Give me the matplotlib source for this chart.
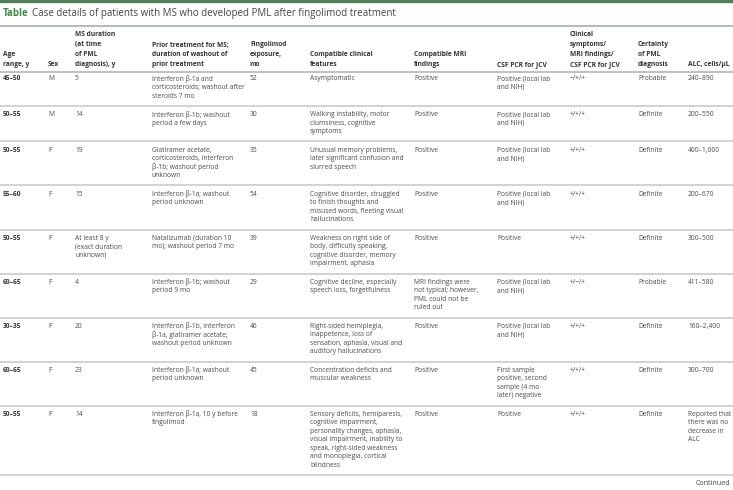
import matplotlib
matplotlib.use("Agg")
import matplotlib.pyplot as plt

plt.rcParams['font.family'] = ['Open Sans', 'DejaVu Sans']

# Table content
title_label = "Table"
title_text = "Case details of patients with MS who developed PML after fingolimod treatment"

headers = [
    "Age\nrange, y",
    "Sex",
    "MS duration\n(at time\nof PML\ndiagnosis), y",
    "Prior treatment for MS;\nduration of washout of\nprior treatment",
    "Fingolimod\nexposure,\nmo",
    "Compatible clinical\nfeatures",
    "Compatible MRI\nfindings",
    "CSF PCR for JCV",
    "Clinical\nsymptoms/\nMRI findings/\nCSF PCR for JCV",
    "Certainty\nof PML\ndiagnosis",
    "ALC, cells/µL",
]

age_range = ["45–50", "50–55", "50–55", "55–60", "50–55", "60–65", "30–35", "60–65", "50–55"]
sex = ["M", "M", "F", "F", "F", "F", "F", "F", "F"]
ms_duration = ["5", "14", "19", "15", "At least 8 y\n(exact duration\nunknown)", "4", "20", "23", "14"]
prior_treatment = [
    "Interferon β-1a and\ncorticosteroids; washout after\nsteroids 7 mo",
    "Interferon β-1b; washout\nperiod a few days",
    "Glatiramer acetate,\ncorticosteroids, interferon\nβ-1b; washout period\nunknown",
    "Interferon β-1a; washout\nperiod unknown",
    "Natalizumab (duration 10\nmo); washout period 7 mo",
    "Interferon β-1b; washout\nperiod 9 mo",
    "Interferon β-1b, interferon\nβ-1a, glatiramer acetate;\nwashout period unknown",
    "Interferon β-1a; washout\nperiod unknown",
    "Interferon β-1a, 10 y before\nfingolimod",
]
exposure_mo = ["52", "30", "35", "54", "39", "29", "46", "45", "18"]
clinical_features = [
    "Asymptomatic",
    "Walking instability, motor\nclumsiness, cognitive\nsymptoms",
    "Unusual memory problems,\nlater significant confusion and\nslurred speech",
    "Cognitive disorder, struggled\nto finish thoughts and\nmisused words, fleeting visual\nhallucinations",
    "Weakness on right side of\nbody, difficulty speaking,\ncognitive disorder, memory\nimpairment, aphasia",
    "Cognitive decline, especially\nspeech loss, forgetfulness",
    "Right-sided hemiplegia,\ninappetence, loss of\nsensation, aphasia, visual and\nauditory hallucinations",
    "Concentration deficits and\nmuscular weakness",
    "Sensory deficits, hemiparesis,\ncognitive impairment,\npersonality changes, aphasia,\nvisual impairment, inability to\nspeak, right-sided weakness\nand monoplegia, cortical\nblindness",
]
mri_findings = [
    "Positive", "Positive", "Positive", "Positive", "Positive",
    "MRI findings were\nnot typical; however,\nPML could not be\nruled out",
    "Positive", "Positive", "Positive",
]
csf_pcr = [
    "Positive (local lab\nand NIH)", "Positive (local lab\nand NIH)", "Positive (local lab\nand NIH)",
    "Positive (local lab\nand NIH)", "Positive", "Positive (local lab\nand NIH)",
    "Positive (local lab\nand NIH)",
    "First sample\npositive, second\nsample (4 mo\nlater) negative",
    "Positive",
]
combined = ["−/+/+", "+/+/+", "+/+/+", "+/+/+", "+/+/+", "+/−/+", "+/+/+", "+/+/+", "+/+/+"]
certainty = ["Probable", "Definite", "Definite", "Definite", "Definite", "Probable", "Definite", "Definite", "Definite"]
alc = ["240–890", "200–550", "400–1,000", "200–670", "300–500", "411–580", "160–2,400", "300–700",
       "Reported that\nthere was no\ndecrease in\nALC"]

columns = [age_range, sex, ms_duration, prior_treatment, exposure_mo, clinical_features,
           mri_findings, csf_pcr, combined, certainty, alc]

# Layout (pixels)
W, H = 733, 490
col_x = [3, 48, 75, 152, 250, 310, 414, 497, 570, 638, 688]
lh = 8.5        # line height
fs = 4.8        # body font size
text_col = "#4a4a4a"
head_col = "#333333"
rule_col = "#cfcfcf"

fig = plt.figure(figsize=(W / 100, H / 100), dpi=100)
ax = fig.add_axes([0, 0, 1, 1])
ax.set_xlim(0, W)
ax.set_ylim(H, 0)
ax.axis("off")

# top bar and title
ax.axhline(1.2, color="#4f7f5a", lw=2.4)
ax.text(3, 13.5, title_label, fontsize=7.0, fontweight="bold", color="#3f8a4a", va="center")
ax.text(32, 13.5, title_text, fontsize=7.0, color="#444444", va="center")
ax.axhline(26, color="#a9b8aa", lw=1.3)


def draw_cell(x, y0, txt, bold=False, color=text_col, step=lh):
    for i, line in enumerate(txt.split("\n")):
        ax.text(x, y0 + i * step, line, fontsize=fs, color=color, va="center",
                fontweight="bold" if bold else "normal")


# header, bottom aligned
head_last = 64.5
head_lh = 10
for x, h in zip(col_x, headers):
    n = len(h.split("\n"))
    draw_cell(x, head_last - (n - 1) * head_lh, h, bold=True, color=head_col, step=head_lh)
ax.axhline(72.5, color="#b5b5b5", lw=1.2)

# body rows
y = 79
for r in range(len(age_range)):
    cells = [c[r] for c in columns]
    nlines = max(len(c.split("\n")) for c in cells)
    for j, (x, c) in enumerate(zip(col_x, cells)):
        draw_cell(x, y, c, bold=(j == 0), color=head_col if j == 0 else text_col)
    bottom = y + (nlines - 1) * lh + 10
    ax.axhline(bottom, color=rule_col, lw=1.3)
    y = bottom + 8.5

ax.text(730, y - 0.5, "Continued", fontsize=fs + 0.3, color="#444444", ha="right", va="center")

fig.savefig("out.png", dpi=100)
